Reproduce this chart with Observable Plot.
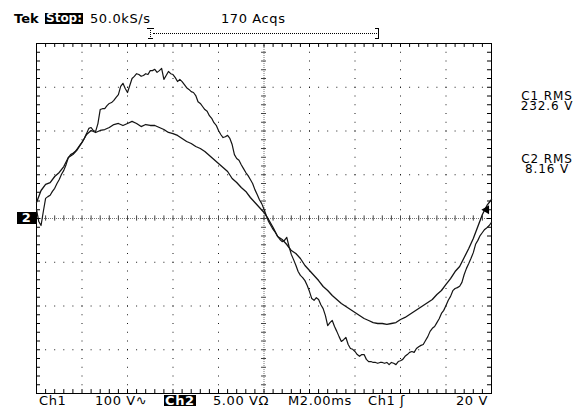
<!DOCTYPE html>
<html>
<head>
<meta charset="utf-8">
<script src="https://cdn.jsdelivr.net/npm/d3@7"></script>
<script src="https://cdn.jsdelivr.net/npm/@observablehq/plot@0.6"></script>
<style>
  body { margin: 0; background: #fff; }
  #wrap { position: relative; width: 582px; height: 408px; overflow: hidden; background: #fff;
          font-family: "DejaVu Sans", sans-serif; font-size: 13px; color: #000; }
  #wrap svg { position: absolute; left: 0; top: 0; }
  .lbl { position: absolute; white-space: nowrap; line-height: 11px; letter-spacing: 0.6px; }
  .inv { background: #000; color: #fff; padding: 0 1px; }
  .rms { font-size: 12px; letter-spacing: 0.9px; width: 72px; text-align: center; line-height: 10.5px; white-space: pre; }
  .deco { position: absolute; box-sizing: border-box; }
</style>
</head>
<body>
<div id="wrap"></div>
<script>
// ---- scope settings ----
const timePerDivMs = 2;        // M2.00ms
const ch1VoltsPerDiv = 100;    // Ch1 100 V
const ch2VoltsPerDiv = 5;      // Ch2 5.00 V
const ch1TriggerVolts = 20;    // trigger level Ch1 20 V
const divsX = 10, divsY = 8;

// ---- Ch1 trace, volts, one sample every 0.1 ms ----
const c1StepMs = 0.1;
const c1Volts = [
  21, -7, -16, 16, 46, 50, 53, 62, 69, 80,
  89, 101, 110, 123, 139, 146, 149, 153, 160, 167,
  174, 183, 194, 206, 208, 201, 199, 217, 249, 251,
  251, 258, 263, 265, 270, 277, 283, 302, 309, 297,
  288, 304, 320, 325, 331, 329, 325, 327, 331, 329,
  338, 338, 341, 334, 338, 343, 318, 327, 336, 331,
  329, 322, 313, 318, 313, 306, 299, 295, 290, 288,
  281, 267, 263, 256, 249, 245, 235, 229, 219, 213,
  201, 192, 185, 187, 190, 183, 169, 146, 137, 133,
  123, 114, 105, 98, 89, 80, 66, 55, 43, 34,
  21, 7, -7, -16, -25, -32, -41, -48, -53, -50,
  -43, -64, -82, -94, -107, -121, -130, -135, -142, -153,
  -167, -183, -187, -181, -185, -197, -206, -222, -245, -238,
  -233, -247, -258, -270, -281, -277, -272, -288, -297, -299,
  -304, -311, -315, -311, -311, -322, -327, -327, -329, -329,
  -331, -329, -329, -331, -329, -334, -329, -331, -334, -327,
  -325, -322, -315, -311, -306, -304, -306, -297, -293, -290,
  -288, -279, -270, -258, -251, -247, -238, -229, -217, -210,
  -199, -187, -178, -165, -160, -158, -155, -146, -128, -114,
  -103, -91, -78, -59, -50, -39, -32, -25, -21, -16,
  -9
];

// ---- Ch2 trace, volts, one sample every 0.2 ms ----
const c2StepMs = 0.2;
const c2Volts = [
  1.83, 3.20, 3.89, 4.11, 4.80, 5.26, 5.94, 6.97, 7.31, 7.89,
  8.69, 9.60, 10.06, 9.83, 10.06, 10.17, 10.40, 10.74, 10.86, 10.63,
  10.86, 11.09, 10.86, 10.51, 10.74, 10.63, 10.63, 10.40, 10.17, 9.83,
  9.71, 9.49, 9.14, 8.80, 8.57, 8.23, 8.00, 7.66, 7.20, 6.74,
  6.29, 5.83, 5.37, 4.57, 4.11, 3.54, 3.09, 2.40, 1.83, 1.26,
  0.69, -0.11, -1.03, -2.06, -2.40, -2.97, -3.66, -4.00, -4.57, -5.37,
  -5.94, -6.51, -7.09, -7.77, -8.23, -8.80, -9.26, -9.71, -10.06, -10.40,
  -10.74, -11.09, -11.43, -11.66, -11.89, -12.00, -12.00, -12.11, -12.00, -11.89,
  -11.54, -11.31, -10.97, -10.63, -10.29, -9.94, -9.60, -9.26, -8.69, -8.23,
  -7.54, -6.86, -6.06, -5.49, -4.46, -3.43, -2.29, -0.91, 0.46, 1.49,
  2.17
];

// ---- screen texts ----
const topTexts = { brand: "Tek", state: "Stop:", rate: "50.0kS/s", acqs: "170 Acqs" };
const bottomTexts = { ch1: "Ch1", ch1Scale: "100 V\u223F", ch2: "Ch2", ch2Scale: "5.00 V\u03A9",
                      time: "M2.00ms", trig: "Ch1 \u0283", trigLevel: "20 V" };
const measNames = ["C1 RMS", "C2 RMS"];
const measValues = ["232.6 V", "8.16 V"];
const groundMarker = "2";

// ---- graticule positions (divisions) ----
const xMax = timePerDivMs * divsX;
const yMax = divsY / 2;
const gridX = d3.range(1, divsX).filter(i => i !== divsX / 2).map(i => i * timePerDivMs);
const gridY = d3.range(-yMax + 1, yMax).filter(v => v !== 0);
const minorX = d3.range(0, xMax + 1e-6, timePerDivMs / 5);
const minorY = d3.range(-yMax, yMax + 1e-6, 0.2);

const traceColor = "#141414";

const chart = Plot.plot({
  width: 582,
  height: 408,
  marginLeft: 36,
  marginRight: 91,
  marginTop: 43,
  marginBottom: 15,
  x: { domain: [0, xMax], axis: null },
  y: { domain: [-yMax, yMax], axis: null },
  style: { background: "none", overflow: "visible" },
  marks: [
    // dotted division grid
    Plot.ruleY(gridY, { stroke: "#000", strokeOpacity: 0.9, strokeDasharray: "1 8.1" }),
    Plot.ruleX(gridX, { stroke: "#000", strokeOpacity: 0.9, strokeDasharray: "1 7.75" }),
    // center cross with minor ticks
    Plot.ruleY([0], { stroke: "#777", strokeDasharray: "1 1" }),
    Plot.ruleX([xMax / 2], { stroke: "#777", strokeDasharray: "1 1" }),
    Plot.ruleX(minorX, { x: d => d, y1: -0.06, y2: 0.06, stroke: "#444" }),
    Plot.ruleY(minorY, { y: d => d, x1: xMax / 2 - 0.11, x2: xMax / 2 + 0.11, stroke: "#444" }),
    // frame ticks
    Plot.ruleX(minorX, { x: d => d, y1: yMax, y2: yMax - 0.09, stroke: "#000" }),
    Plot.ruleX(minorX, { x: d => d, y1: -yMax, y2: -yMax + 0.09, stroke: "#000" }),
    Plot.ruleY(minorY, { y: d => d, x1: 0, x2: 0.176, stroke: "#000" }),
    Plot.ruleY(minorY, { y: d => d, x1: xMax, x2: xMax - 0.176, stroke: "#000" }),
    Plot.frame({ stroke: "#000" }),
    // traces
    Plot.line(c2Volts, { x: (d, i) => i * c2StepMs, y: d => d / ch2VoltsPerDiv,
                         stroke: traceColor, strokeWidth: 1.3 }),
    Plot.line(c1Volts, { x: (d, i) => i * c1StepMs, y: d => d / ch1VoltsPerDiv,
                         stroke: traceColor, strokeWidth: 1.2 }),
    // trigger level arrow
    Plot.dot([ch1TriggerVolts], { x: () => xMax, y: d => d / ch1VoltsPerDiv,
                                  symbol: "triangle", r: 3.3, rotate: -90, dx: -5,
                                  fill: "#000", stroke: "none" })
  ]
});

const wrap = document.getElementById("wrap");
wrap.appendChild(chart);

function label(text, left, top, cls) {
  const s = document.createElement("span");
  s.className = "lbl" + (cls ? " " + cls : "");
  s.textContent = text;
  s.style.left = left + "px";
  s.style.top = top + "px";
  wrap.appendChild(s);
  return s;
}
function deco(left, top, width, height, css) {
  const d = document.createElement("div");
  d.className = "deco";
  Object.assign(d.style, { left: left + "px", top: top + "px", width: width + "px", height: height + "px" }, css);
  wrap.appendChild(d);
}

// top row
const brand = label(topTexts.brand, 14, 13, "");
brand.style.fontWeight = "bold";
brand.style.letterSpacing = "0px";
const st = label(topTexts.state, 45, 13, "inv");
st.style.fontWeight = "bold";
st.style.fontSize = "12px";
st.style.letterSpacing = "0px";
label(topTexts.rate, 90, 13);
label(topTexts.acqs, 221, 13);

// record / trigger position bracket
deco(147, 28, 7, 1, { borderTop: "1px solid #000" });
deco(150, 28, 1, 11, { borderLeft: "1px dotted #000" });
deco(148, 38, 5, 1, { borderTop: "1px solid #000" });
deco(153, 33, 224, 1, { borderTop: "1px dotted #000" });
deco(375, 28, 4, 11, { borderTop: "1px solid #000", borderRight: "1px solid #000", borderBottom: "1px solid #000" });

// bottom row
label(bottomTexts.ch1, 39, 395);
label(bottomTexts.ch1Scale, 95, 395);
label(bottomTexts.ch2, 164, 395, "inv").style.fontWeight = "bold";
label(bottomTexts.ch2Scale, 213, 395);
label(bottomTexts.time, 288, 395);
label(bottomTexts.trig, 368, 395);
label(bottomTexts.trigLevel, 456, 395);

// measurements on the right (name and value in one block)
const measTops = [90.5, 153.5];
measNames.forEach((t, i) => label(t + "\n" + measValues[i], 511, measTops[i], "rms"));

// channel 2 ground marker
const y0 = chart.scale("y").apply(0);
const g = label(groundMarker, 17, y0 - 6, "inv");
g.style.fontWeight = "bold";
g.style.width = "17px";
g.style.lineHeight = "12px";
g.style.textAlign = "center";
</script>
</body>
</html>
